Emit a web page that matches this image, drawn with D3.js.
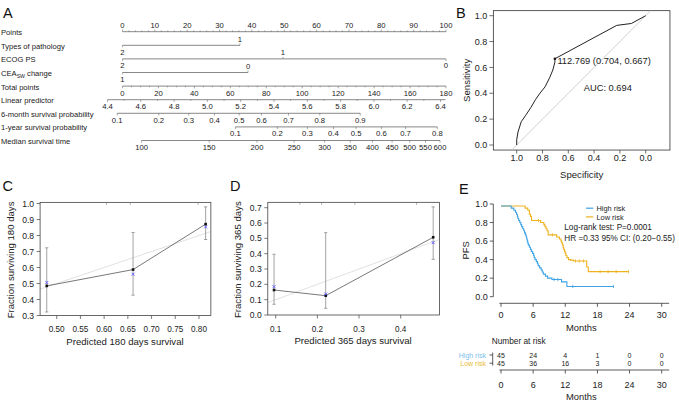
<!DOCTYPE html>
<html><head><meta charset="utf-8">
<script src="https://cdn.jsdelivr.net/npm/d3@7"></script>
<style>
body{margin:0;background:#fff}
svg{display:block}
text{font-family:"Liberation Sans",Arial,Helvetica,sans-serif;fill:#222}
</style>
</head><body>
<svg id="chart" width="679" height="404"></svg>
<script>
// ---------------- DATA ----------------
// Panel A (nomogram)
const nomoRowNames = ["Points","Types of pathology","ECOG PS","CEA change","Total points","Linear predictor","6-month survival probability","1-year survival probability","Median survival time"];
const pointsTicks = [0,10,20,30,40,50,60,70,80,90,100];
const pathologyLevels = ["2","1"];
const pathologyPoints = [0,36.3];
const ecogLevels = ["2","1","0"];
const ecogPoints = [0,49.6,100];
const ceaLevels = ["1","0"];
const ceaPoints = [0,38.8];
const totalPointsTicks = [0,20,40,60,80,100,120,140,160,180];
const lpTicks = [4.4,4.6,4.8,5.0,5.2,5.4,5.6,5.8,6.0,6.2,6.4];
const sixMonthProbs = ["0.1","0.2","0.3","0.4","0.5","0.6","0.7","0.8","0.9"];
const sixMonthLP = [4.458,4.708,4.888,5.043,5.191,5.325,5.487,5.675,5.918];
const oneYearProbs = ["0.1","0.2","0.3","0.4","0.5","0.6","0.7","0.8"];
const oneYearLP = [5.168,5.420,5.601,5.757,5.893,6.045,6.190,6.381];
const medianTimes = ["100","150","200","250","300","350","400","450","500","550","600"];
const medianLP = [4.605,5.011,5.298,5.521,5.704,5.858,5.991,6.109,6.215,6.310,6.397];

// Panel B (ROC)
const rocSpec = [1.0,1.0,0.99,0.965,0.93,0.89,0.855,0.82,0.78,0.745,0.72,0.704,0.704,0.225,0.11,0.0];
const rocSens = [0.0,0.04,0.10,0.18,0.23,0.29,0.35,0.40,0.45,0.52,0.58,0.64,0.667,0.925,0.94,1.0];
const rocBestSpec = 0.704, rocBestSens = 0.667;
const rocBestLabel = "112.769 (0.704, 0.667)";
const aucLabel = "AUC: 0.694";
const rocTicks = [0,0.2,0.4,0.6,0.8,1.0];

// Panel C (180-day calibration)
const calCPred = [0.479,0.661,0.814];
const calCObs = [0.485,0.587,0.871];
const calCCorr = [0.506,0.558,0.854];
const calCLow = [0.322,0.427,0.775];
const calCHigh = [0.723,0.819,0.979];
const calCRug = [0.605,0.655,0.798];
const calCYTicks = [0.3,0.4,0.5,0.6,0.7,0.8,0.9,1.0];
const calCXTicks = [0.50,0.55,0.60,0.65,0.70,0.75,0.80];

// Panel D (365-day calibration)
const calDPred = [0.096,0.220,0.478];
const calDObs = [0.163,0.126,0.507];
const calDCorr = [0.185,0.137,0.472];
const calDLow = [0.070,0.044,0.363];
const calDHigh = [0.396,0.537,0.705];
const calDRug = [0.158,0.210,0.290,0.438];
const calDYTicks = [0.0,0.1,0.2,0.3,0.4,0.5,0.6,0.7];
const calDXTicks = [0.1,0.2,0.3,0.4];

// Panel E (Kaplan-Meier)
const highRiskTime = [0,1.9,2.4,2.7,2.9,3.05,3.15,3.3,3.5,3.7,3.85,4.05,4.25,4.4,4.55,4.7,4.8,4.9,5.0,5.1,5.3,5.5,5.65,5.9,6.1,6.2,6.35,6.6,6.8,6.95,7.2,7.5,7.7,7.9,8.3,8.7,9.5,11.3,12.3,21.0];
const highRiskSurv = [0.978,0.956,0.933,0.911,0.889,0.867,0.844,0.822,0.800,0.778,0.756,0.733,0.711,0.689,0.667,0.644,0.622,0.600,0.578,0.556,0.533,0.511,0.489,0.467,0.444,0.422,0.400,0.378,0.356,0.333,0.311,0.289,0.267,0.244,0.222,0.200,0.185,0.160,0.110,0.110];
const highRiskCensor = [9.9,10.6,13.4,21.0];
const lowRiskTime = [0,4.5,5.0,5.3,5.5,5.7,7.4,8.0,8.2,8.4,8.6,8.8,10.4,10.9,11.2,11.35,11.5,11.6,11.7,11.85,12.0,12.1,12.3,12.6,13.0,13.5,16.0,16.3,23.8];
const lowRiskSurv = [0.978,0.956,0.933,0.889,0.867,0.822,0.800,0.778,0.756,0.733,0.711,0.667,0.644,0.622,0.600,0.578,0.556,0.533,0.511,0.489,0.467,0.444,0.422,0.400,0.395,0.385,0.320,0.270,0.270];
const lowRiskCensor = [7.0,9.6,13.9,14.6,15.4,18.5,20.0,21.5,23.8];
const kmGroups = ["High risk","Low risk"];
const kmXTicks = [0,6,12,18,24,30];
const kmYTicks = [0,0.2,0.4,0.6,0.8,1.0];
const riskTimes = [0,6,12,18,24,30];
const highRiskN = [45,24,4,1,0,0];
const lowRiskN = [45,36,16,3,0,0];
const logRankText = "Log-rank test: P=0.0001";
const hrText = "HR =0.33 95% CI: (0.20\u22120.55)";

// ---------------- DRAWING ----------------
const svg = d3.select("#chart");
const BLUE = "#3FA4E6", YELLOW = "#EDB21E";
const BLUE_T = "#7CC0EC", YELLOW_T = "#E9BE3A";

function text(g, x, y, s, size, anchor, fill) {
  return g.append("text").attr("x", x).attr("y", y).attr("font-size", size)
    .attr("text-anchor", anchor || "start").style("fill", fill || "#222").text(s);
}
function line(g, x1, y1, x2, y2, stroke, w) {
  return g.append("line").attr("x1", x1).attr("y1", y1).attr("x2", x2).attr("y2", y2)
    .attr("stroke", stroke || "#333").attr("stroke-width", w || 0.7);
}
function panelLetter(x, y, s) { text(svg, x, y, s, 14.5, "start", "#111"); }

// ===== Panel A =====
const A = svg.append("g");
panelLetter(3, 17.5, "A");
const rowY = i => 31.7 + i * 13.6;
const ptsX = d3.scaleLinear().domain([0, 100]).range([122.5, 446]);
const totX = d3.scaleLinear().domain([0, 180]).range([122.5, 446]);
const lpX = d3.scaleLinear().domain([4.4, 6.4]).range([107.5, 440.5]);
const NF = 7.6, TF = 7.7, LC = "#555";

nomoRowNames.forEach((n, i) => {
  if (n === "CEA change") {
    const t = A.append("text").attr("x", 1).attr("y", rowY(i) + 3.5).attr("font-size", NF).style("fill", "#222");
    t.append("tspan").text("CEA");
    t.append("tspan").attr("font-size", 5.2).attr("dy", 1.8).text("SW");
    t.append("tspan").attr("dy", -1.8).text(" change");
  } else {
    text(A, 1, rowY(i) + 3.5, n, NF);
  }
});

// Points axis (labels above)
line(A, ptsX(0), rowY(0), ptsX(100), rowY(0), LC);
d3.range(0, 101, 2).forEach(v => line(A, ptsX(v), rowY(0), ptsX(v), rowY(0) - (v % 10 === 0 ? 2.2 : 1.3), LC, 0.5));
pointsTicks.forEach(v => text(A, ptsX(v), rowY(0) - 3.4, String(v), TF, "middle"));

// categorical rows
function catRow(i, levels, pts, sides) {
  const y = rowY(i);
  line(A, ptsX(d3.min(pts)), y, ptsX(d3.max(pts)), y, LC);
  levels.forEach((lv, k) => {
    const up = sides[k] === "above";
    line(A, ptsX(pts[k]), y, ptsX(pts[k]), y + (up ? -2 : 2), LC, 0.5);
    text(A, ptsX(pts[k]), up ? y - 3.5 : y + 9.2, lv, TF, "middle");
  });
}
catRow(1, pathologyLevels, pathologyPoints, ["below", "above"]);
catRow(2, ecogLevels, ecogPoints, ["below", "above", "below"]);
catRow(3, ceaLevels, ceaPoints, ["below", "above"]);

// Total points
line(A, totX(0), rowY(4), totX(180), rowY(4), LC);
d3.range(0, 181, 5).forEach(v => line(A, totX(v), rowY(4), totX(v), rowY(4) + (v % 20 === 0 ? 2.2 : 1.2), LC, 0.5));
totalPointsTicks.forEach(v => text(A, totX(v), rowY(4) + 9.4, String(v), TF, "middle"));

// Linear predictor
line(A, lpX(4.4), rowY(5), lpX(6.43), rowY(5), LC);
d3.range(44, 65, 1).forEach(k => { const v = k / 10; line(A, lpX(v), rowY(5), lpX(v), rowY(5) + (k % 2 === 0 ? 2.2 : 1.2), LC, 0.5); });
lpTicks.forEach(v => text(A, lpX(v), rowY(5) + 9.4, v.toFixed(1), TF, "middle"));

function probRow(i, labels, lps) {
  const y = rowY(i);
  line(A, lpX(lps[0]), y, lpX(lps[lps.length - 1]), y, LC);
  lps.forEach((v, k) => {
    line(A, lpX(v), y, lpX(v), y + 2.2, LC, 0.5);
    text(A, lpX(v), y + 9.4, labels[k], TF, "middle");
  });
}
probRow(6, sixMonthProbs, sixMonthLP);
probRow(7, oneYearProbs, oneYearLP);
probRow(8, medianTimes, medianLP);

// ===== Panel B =====
const B = svg.append("g");
panelLetter(456, 17.5, "B");
const xB = d3.scaleLinear().domain([1, 0]).range([516.7, 645.7]);
const yB = d3.scaleLinear().domain([0, 1]).range([145, 15.7]);
const bx0 = xB(1.181), bx1 = xB(-0.188), by0 = yB(1.039), by1 = yB(-0.039);
B.append("rect").attr("x", bx0).attr("y", by0).attr("width", bx1 - bx0).attr("height", by1 - by0)
  .attr("fill", "none").attr("stroke", "#333").attr("stroke-width", 0.8);
line(B, xB(1.039), yB(-0.039), xB(-0.039), yB(1.039), "#c9c9c9", 0.9);
B.append("path").datum(rocSpec.map((s, i) => [s, rocSens[i]]))
  .attr("d", d3.line().x(d => xB(d[0])).y(d => yB(d[1])))
  .attr("fill", "none").attr("stroke", "#222").attr("stroke-width", 1);
B.append("circle").attr("cx", xB(rocBestSpec)).attr("cy", yB(rocBestSens)).attr("r", 1.3).attr("fill", "#111");
text(B, xB(rocBestSpec) + 2.5, yB(0.625), rocBestLabel, 9.3);
text(B, xB(0.48), yB(0.42), aucLabel, 9.3);
rocTicks.forEach(v => {
  line(B, bx0 - 4, yB(v), bx0, yB(v), "#333", 0.7);
  text(B, bx0 - 6, yB(v) + 3.2, v.toFixed(1), 9, "end");
  line(B, xB(v), by1, xB(v), by1 + 3.5, "#333", 0.7);
  text(B, xB(v), by1 + 11, v.toFixed(1), 9, "middle");
});
text(B, (bx0 + bx1) / 2, 177.5, "Specificity", 9.6, "middle");
B.append("text").attr("transform", `translate(469.5,${(by0 + by1) / 2}) rotate(-90)`)
  .attr("text-anchor", "middle").attr("font-size", 9.6).style("fill", "#222").text("Sensitivity");

// ===== Panels C & D =====
function calPanel(cfg) {
  const g = svg.append("g");
  const x = d3.scaleLinear().domain(cfg.xd).range(cfg.xr);
  const y = d3.scaleLinear().domain(cfg.yd).range(cfg.yr);
  const X0 = x(cfg.box[0]), X1 = x(cfg.box[1]), Y0 = y(cfg.box[3]), Y1 = y(cfg.box[2]);
  const lo = Math.max(cfg.box[0], cfg.box[2]), hi = Math.min(cfg.box[1], cfg.box[3]);
  line(g, x(lo), y(lo), x(hi), y(hi), "#d9d9d9", 0.8);
  cfg.rug.forEach(v => line(g, x(v), Y0, x(v), Y0 + 2.5, "#aaa", 0.9));
  cfg.pred.forEach((p, i) => {
    line(g, x(p), y(cfg.low[i]), x(p), y(cfg.high[i]), "#8a8a8a", 0.8);
    line(g, x(p) - 1.6, y(cfg.low[i]), x(p) + 1.6, y(cfg.low[i]), "#8a8a8a", 0.8);
    line(g, x(p) - 1.6, y(cfg.high[i]), x(p) + 1.6, y(cfg.high[i]), "#8a8a8a", 0.8);
  });
  g.append("path").datum(cfg.pred.map((p, i) => [p, cfg.obs[i]]))
    .attr("d", d3.line().x(d => x(d[0])).y(d => y(d[1])))
    .attr("fill", "none").attr("stroke", "#555").attr("stroke-width", 0.8);
  cfg.pred.forEach((p, i) => {
    g.append("rect").attr("x", x(p) - 1.3).attr("y", y(cfg.obs[i]) - 1.3).attr("width", 2.6).attr("height", 2.6).attr("fill", "#111");
    const cx = x(p), cy = y(cfg.corr[i]);
    line(g, cx - 1.5, cy - 1.5, cx + 1.5, cy + 1.5, "#5a5aff", 0.9);
    line(g, cx - 1.5, cy + 1.5, cx + 1.5, cy - 1.5, "#5a5aff", 0.9);
  });
  g.append("rect").attr("x", X0).attr("y", Y0).attr("width", X1 - X0).attr("height", Y1 - Y0)
    .attr("fill", "none").attr("stroke", "#444").attr("stroke-width", 0.8);
  cfg.yt.forEach(v => {
    line(g, X0 - 3.5, y(v), X0, y(v), "#444", 0.7);
    text(g, X0 - 6, y(v) + 3, v.toFixed(1), 8.6, "end");
  });
  cfg.xt.forEach(v => {
    line(g, x(v), Y1, x(v), Y1 + 3.5, "#444", 0.7);
    text(g, x(v), Y1 + 16.8, v.toFixed(cfg.xdec), 8.2, "middle");
  });
  text(g, (X0 + X1) / 2 - 0.5, Y1 + 29.2, cfg.xlab, 9.6, "middle");
  g.append("text").attr("transform", `translate(${cfg.ylabX},${(Y0 + Y1) / 2 + 1}) rotate(-90)`)
    .attr("text-anchor", "middle").attr("font-size", 9.6).style("fill", "#222").text(cfg.ylab);
}
panelLetter(2.5, 190.5, "C");
calPanel({xd:[0.5,0.8], xr:[56.7,199], yd:[0.3,1.0], yr:[315.5,203.5], box:[0.465,0.825,0.3,1.007],
  pred:calCPred, obs:calCObs, corr:calCCorr, low:calCLow, high:calCHigh, rug:calCRug,
  yt:calCYTicks, xt:calCXTicks, xdec:2, xlab:"Predicted 180 days survival", ylab:"Fraction surviving 180 days", ylabX:13.5});
panelLetter(230, 190.5, "D");
calPanel({xd:[0.1,0.4], xr:[275.7,400.7], yd:[0,0.7], yr:[315,207.7], box:[0.081,0.493,0,0.735],
  pred:calDPred, obs:calDObs, corr:calDCorr, low:calDLow, high:calDHigh, rug:calDRug,
  yt:calDYTicks, xt:calDXTicks, xdec:1, xlab:"Predicted 365 days survival", ylab:"Fraction surviving 365 days", ylabX:240.5});

// ===== Panel E =====
const E = svg.append("g");
panelLetter(459, 194, "E");
const xE = d3.scaleLinear().domain([0, 30]).range([501, 661.7]);
const yE = d3.scaleLinear().domain([0, 1]).range([296.7, 204]);
const axX = 493.3, axY = 303.3;
line(E, axX, yE(0), axX, yE(1), "#333", 0.8);
kmYTicks.forEach(v => {
  line(E, axX - 3.5, yE(v), axX, yE(v), "#333", 0.8);
  text(E, axX - 5.5, yE(v) + 3.2, v.toFixed(1), 9, "end");
});
line(E, xE(-0.3), axY, xE(31.4), axY, "#333", 0.8);
kmXTicks.forEach(v => {
  line(E, xE(v), axY, xE(v), axY + 3.5, "#333", 0.8);
  text(E, xE(v), axY + 15, String(v), 9, "middle");
});
text(E, xE(15), 330.5, "Months", 9.4, "middle");
E.append("text").attr("transform", `translate(468.5,${yE(0.5)}) rotate(-90)`)
  .attr("text-anchor", "middle").attr("font-size", 9.4).style("fill", "#222").text("PFS");

const kmLine = d3.line().x(d => xE(d[0])).y(d => yE(d[1])).curve(d3.curveStepAfter);
function survAt(times, surv, t) { const i = d3.bisectRight(times, t) - 1; return surv[Math.max(0, i)]; }
[[lowRiskTime, lowRiskSurv, lowRiskCensor, YELLOW], [highRiskTime, highRiskSurv, highRiskCensor, BLUE]].forEach(([T, S, C, col]) => {
  E.append("path").datum(T.map((t, i) => [t, S[i]])).attr("d", kmLine)
    .attr("fill", "none").attr("stroke", col).attr("stroke-width", 1.1);
  C.forEach(t => { const s = survAt(T, S, t); line(E, xE(t), yE(s) - 1.6, xE(t), yE(s) + 1.6, col, 0.8); });
});
// legend
[[BLUE, kmGroups[0], 208.2], [YELLOW, kmGroups[1], 216.9]].forEach(([c, s, y]) => {
  line(E, 586, y, 593.3, y, c, 1.2);
  text(E, 596.5, y + 2.6, s, 7.4);
});
text(E, 564.3, 230.2, logRankText, 8.2);
text(E, 564.3, 241.2, hrText, 8.2);

// number at risk
text(E, 491.7, 344, "Number at risk", 8.3);
const rowHY = 355.0, rowLY = 363.2;
line(E, 492.7, 352.6, 492.7, 365.6, "#333", 0.8);
[[rowHY, kmGroups[0], BLUE_T, highRiskN], [rowLY, kmGroups[1], YELLOW_T, lowRiskN]].forEach(([y, s, c, N]) => {
  line(E, 489.5, y, 492.7, y, "#333", 0.8);
  text(E, 486, y + 2.5, s, 7.0, "end", c);
  riskTimes.forEach((t, i) => text(E, xE(t), y + 2.5, String(N[i]), 7.0, "middle"));
});
const tabY = 370;
line(E, xE(-0.3), tabY, xE(31.4), tabY, "#333", 0.8);
kmXTicks.forEach(v => {
  line(E, xE(v), tabY, xE(v), tabY + 3.5, "#333", 0.8);
  text(E, xE(v), tabY + 17.5, String(v), 9, "middle");
});
text(E, xE(15), 400, "Months", 9.4, "middle");
</script>
</body></html>
